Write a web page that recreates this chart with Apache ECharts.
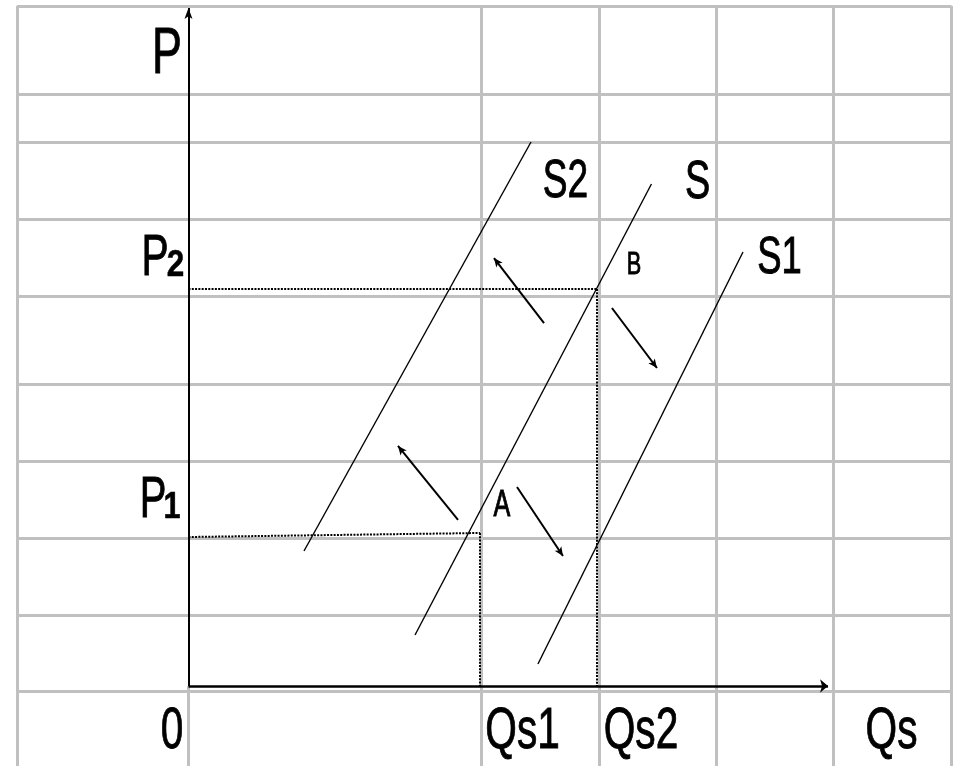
<!DOCTYPE html>
<html><head><meta charset="utf-8">
<script src="https://cdn.jsdelivr.net/npm/echarts@6/dist/echarts.min.js"></script>
<style>html,body{margin:0;padding:0;background:#fff}#c{width:960px;height:766px}</style>
</head><body><div id="c"></div><script>
// ---------- data (x unit = one sheet column, y unit = one sheet row, origin at the axes) ----------
const X_MIN = -1.604, X_MAX = 6.566, Y_MIN = -1.039, Y_MAX = 8.909;

const gridCols = [-1.46, 0, 2.494, 3.494, 4.489, 5.485, 6.494];
const gridRows = [8.831, 7.688, 7.065, 6.065, 5.065, 3.922, 2.922, 1.922, 0.922, -0.065];

const curveNames = ['S2', 'S', 'S1'];
const curveStart = [[0.983, 1.753], [1.928, 0.662], [2.974, 0.286]];
const curveEnd = [[2.915, 7.065], [3.940, 6.519], [4.719, 5.636]];

const qLevels = [2.481, 3.477];        // Qs1, Qs2
const pLevelsAtAxis = [1.935, 5.156];  // P1, P2 at the price axis
const pLevelsAtQ = [1.987, 5.156];     // P1, P2 where they meet Qs1, Qs2

const axisTipX = 5.443, axisTipY = 8.805;

const arrowFrom = [[3.026, 4.714], [3.604, 4.909], [2.294, 2.156], [2.796, 2.584]];
const arrowTo = [[2.600, 5.558], [3.987, 4.130], [1.783, 3.117], [3.187, 1.688]];

const labelText = ['P', 'P', '2', 'P', '1', '0', 'Qs1', 'Qs2', 'Qs', 'S2', 'S', 'S1', 'B', 'A'];
const labelX = [-0.183, -0.285, -0.111, -0.302, -0.141, -0.140, 2.843, 3.851, 5.983, 3.209, 4.332, 5.030, 3.791, 2.668];
const labelY = [8.195, 5.545, 5.455, 2.396, 2.305, -0.597, -0.597, -0.597, -0.597, 6.539, 6.532, 5.545, 5.468, 2.338];

// ---------- styles ----------
const FONT = "'Liberation Sans', Arial, sans-serif";
const TEXT_SCALE_X = 0.7;
const labelStyle = [
  {s: 64}, {s: 58}, {s: 37, w: 'bold', k: 0.85}, {s: 57}, {s: 36, w: 'bold', k: 0.85}, {s: 58},
  {s: 58}, {s: 58}, {s: 58}, {s: 53}, {s: 54}, {s: 52}, {s: 31}, {s: 36}
];

const chart = echarts.init(document.getElementById('c'), null, {renderer: 'canvas'});

const gridData = [];
gridCols.forEach(c => gridData.push({coords: [[c, c === 0 ? 0 : gridRows[0]], [c, Y_MIN]]}));
gridRows.forEach(r => gridData.push({coords: [[gridCols[0], r], [gridCols[gridCols.length - 1], r]]}));

const dottedData = [];
for (let i = 0; i < qLevels.length; i++) {
  dottedData.push({coords: [[0, pLevelsAtAxis[i]], [qLevels[i], pLevelsAtQ[i]]]});
  dottedData.push({coords: [[qLevels[i], pLevelsAtQ[i]], [qLevels[i], 0]]});
}

const curveData = curveNames.map((n, i) => ({name: n, coords: [curveStart[i], curveEnd[i]]}));
const arrowData = arrowFrom.map((f, i) => ({coords: [f, arrowTo[i]]}));
const labelData = labelText.map((t, i) => [labelX[i], labelY[i], i]);

function linesSeries(data, lineStyle, extra) {
  return Object.assign({
    type: 'lines', coordinateSystem: 'cartesian2d', polyline: false, silent: true,
    data: data, lineStyle: Object.assign({opacity: 1, curveness: 0}, lineStyle),
    symbol: ['none', 'none'], effect: {show: false}
  }, extra || {});
}

chart.setOption({
  animation: false,
  backgroundColor: '#ffffff',
  textStyle: {fontFamily: FONT},
  grid: {left: 0, right: 0, top: 0, bottom: 0},
  xAxis: {type: 'value', min: X_MIN, max: X_MAX, show: false},
  yAxis: {type: 'value', min: Y_MIN, max: Y_MAX, show: false},
  series: [
    linesSeries(gridData, {color: '#c0c0c0', width: 3}, {z: 1}),
    linesSeries(dottedData, {color: '#000', width: 2, type: [2, 1.3]}, {z: 2}),
    linesSeries([{coords: [[0, 0], [axisTipX, 0]]}], {color: '#000', width: 2.5},
      {z: 3, symbol: ['none', 'arrow'], symbolSize: [[10, 8], [10, 8]]}),
    linesSeries([{coords: [[0, 0], [0, axisTipY]]}], {color: '#000', width: 2},
      {z: 3, symbol: ['none', 'arrow'], symbolSize: [[6, 11], [6, 11]]}),
    linesSeries(curveData, {color: '#000', width: 1.4}, {z: 4}),
    linesSeries(arrowData, {color: '#000', width: 2},
      {z: 4, symbol: ['none', 'arrow'], symbolSize: [[6, 9], [6, 9]]}),
    {
      type: 'custom', silent: true, z: 5,
      data: labelData,
      renderItem: function (params, api) {
        const i = api.value(2);
        const pt = api.coord([api.value(0), api.value(1)]);
        const st = labelStyle[i];
        return {
          type: 'text', x: pt[0], y: pt[1], scaleX: st.k || TEXT_SCALE_X,
          style: {
            text: labelText[i], fill: '#000', fontFamily: FONT,
            fontSize: st.s, fontWeight: st.w || 'normal',
            stroke: '#000', lineWidth: st.w ? 0.6 : 0.9,
            align: 'center', verticalAlign: 'middle'
          }
        };
      }
    }
  ]
});
</script></body></html>
